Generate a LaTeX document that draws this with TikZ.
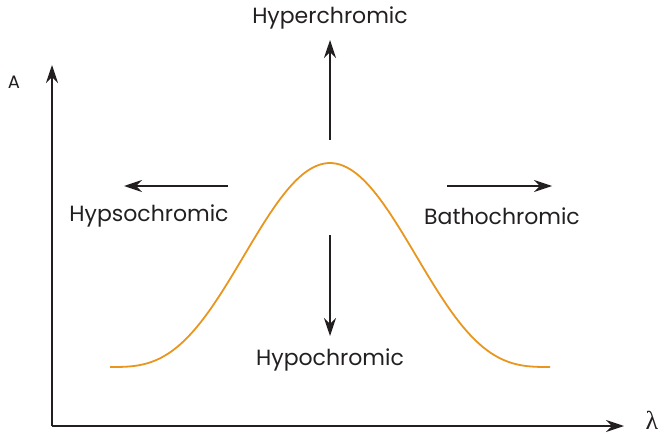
\documentclass[tikz,border=0pt]{standalone}
\usepackage{fontspec}
\setmainfont{Poppins}
\newfontfamily\greekfont{Liberation Serif}
\usetikzlibrary{arrows.meta,positioning}
\definecolor{bandorange}{HTML}{E8961E}
\definecolor{inkgrey}{HTML}{231F20}

\begin{document}
\begin{tikzpicture}[x=1pt,y=1pt,font=\fontsize{22}{26}\selectfont,
  axis/.style={-{Stealth[length=18pt,width=12pt,inset=6pt]},line width=1.5pt,inkgrey},
  shiftarrow/.style={-{Stealth[length=18pt,width=12pt,inset=6pt]},line width=1.4pt,inkgrey},
  lbl/.style={inner sep=0pt,text=inkgrey}]
\useasboundingbox (0,0) rectangle (663,437);
% axes
\coordinate (origin) at (52,11);
\coordinate (ytip) at (52,372);
\coordinate (xtip) at (624,11);
\draw[axis] (origin) -- (ytip);
\draw[axis] (origin) -- (xtip);
\node[lbl,font=\fontsize{18}{20}\selectfont] (alab) at (14,355) {A};
\node[lbl,font=\greekfont\fontsize{26}{28}\selectfont] (lamlab) at (652,17) {λ};
% absorption band
\draw[bandorange,line width=1.8pt] plot[domain=110:550,samples=120,smooth]
  (\x,{70+204*cos(0.40909*(\x-330))*cos(0.40909*(\x-330))*cos(0.40909*(\x-330))});
% shift labels
\node[lbl] (hyper) at (330,419) {Hyperchromic};
\node[lbl] (hypo)  at (330,77)  {Hypochromic};
\node[lbl] (hypso) at (149,221) {Hypsochromic};
\node[lbl] (batho) at (502,221) {Bathochromic};
\coordinate (upfrom) at (330,297);
\coordinate (upto) at (330,397);
\coordinate (downfrom) at (330,202);
\coordinate (downto) at (330,101);
\coordinate (leftfrom) at (228,251);
\coordinate (leftto) at (124,251);
\coordinate (rightfrom) at (447,251);
\coordinate (rightto) at (552,251);
\draw[shiftarrow] (upfrom) -- (upto);
\draw[shiftarrow] (downfrom) -- (downto);
\draw[shiftarrow] (leftfrom) -- (leftto);
\draw[shiftarrow] (rightfrom) -- (rightto);
\end{tikzpicture}
\end{document}
